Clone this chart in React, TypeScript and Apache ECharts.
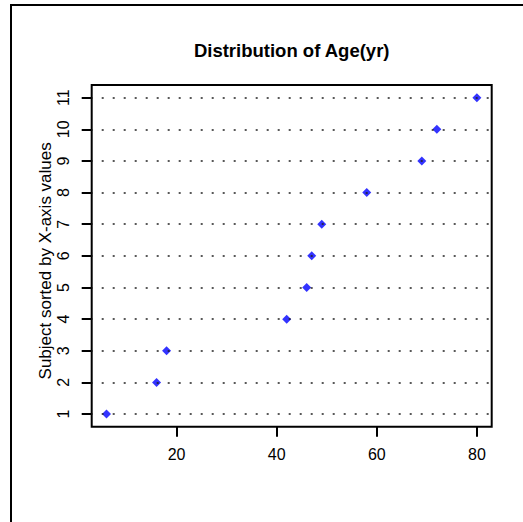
import React, { useEffect, useRef } from "react";
import * as echarts from "echarts";

const chartTitle = "Distribution of Age(yr)";
const yAxisTitle = "Subject sorted by X-axis values";
const ages = [6, 16, 18, 42, 46, 47, 49, 58, 69, 72, 80];
const subjects = [1, 2, 3, 4, 5, 6, 7, 8, 9, 10, 11];
const xTicks = [20, 40, 60, 80];
const yTicks = [1, 2, 3, 4, 5, 6, 7, 8, 9, 10, 11];

const FONT = "'Liberation Sans', Arial, Helvetica, sans-serif";

export default function App() {
  const ref = useRef<HTMLDivElement>(null);
  useEffect(() => {
    const chart = echarts.init(ref.current!, null, { renderer: "svg" });
    const aMin = Math.min(...ages);
    const aMax = Math.max(...ages);
    const xr = aMax - aMin;
    const sMin = Math.min(...subjects);
    const sMax = Math.max(...subjects);
    const yr = sMax - sMin;
    chart.setOption({
      animation: false,
      backgroundColor: "#ffffff",
      title: {
        text: chartTitle,
        left: 291.7,
        top: 41,
        textAlign: "center",
        padding: 0,
        textStyle: { fontSize: 18.5, fontWeight: "bold", color: "#000", fontFamily: FONT },
      },
      graphic: [
        {
          type: "rect",
          shape: { x: 11, y: 5, width: 1000, height: 1000 },
          style: { fill: "none", stroke: "#000", lineWidth: 2 },
          silent: true,
        },
      ],
      grid: {
        left: 91.7,
        top: 85,
        width: 400,
        height: 341.7,
        show: true,
        borderColor: "#000",
        borderWidth: 2,
        backgroundColor: "transparent",
      },
      xAxis: {
        type: "value",
        min: aMin - 0.04 * xr,
        max: aMax + 0.04 * xr,
        axisLine: { show: false },
        splitLine: { show: false },
        axisTick: { show: true, customValues: xTicks, length: 10, lineStyle: { color: "#000", width: 2 } },
        axisLabel: { customValues: xTicks, margin: 20, fontSize: 16, color: "#000", fontFamily: FONT },
      },
      yAxis: {
        type: "value",
        min: sMin - 0.04 * yr,
        max: sMax + 0.04 * yr,
        name: yAxisTitle,
        nameLocation: "middle",
        nameRotate: 90,
        nameGap: 38,
        nameMoveOverlap: false,
        nameTextStyle: { fontSize: 17, color: "#000", fontFamily: FONT, padding: [0, 10, 0, 0] },
        axisLine: { show: false },
        splitLine: { show: false },
        axisTick: { show: true, customValues: yTicks, length: 10, lineStyle: { color: "#000", width: 2 } },
        axisLabel: { customValues: yTicks, rotate: 90, margin: 20, fontSize: 16, color: "#000", fontFamily: FONT },
      },
      series: [
        {
          type: "scatter",
          data: ages.map((a, i) => [a, subjects[i]]),
          symbol: "diamond",
          symbolSize: 9,
          itemStyle: { color: "#0000ff" },
          markLine: {
            silent: true,
            symbol: "none",
            label: { show: false },
            lineStyle: { type: [2, 9], dashOffset: 1.4, color: "#222", width: 1.6 },
            data: yTicks.map((v) => ({ yAxis: v })),
          },
        },
      ],
    });
    return () => chart.dispose();
  }, []);
  return (
    <div
      ref={ref}
      style={{ position: "fixed", left: 0, top: 0, width: 523, height: 522, overflow: "hidden", background: "#fff" }}
    />
  );
}
